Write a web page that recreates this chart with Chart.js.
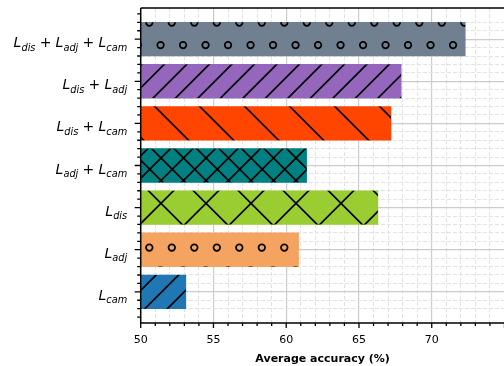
<!DOCTYPE html>
<html><head><meta charset="utf-8">
<script src="https://cdn.jsdelivr.net/npm/chart.js@4.4.1/dist/chart.umd.min.js"></script>
<style>html,body{margin:0;padding:0;overflow:hidden;background:#fff;width:504px;height:366px}</style>
</head><body>
<canvas id="c" width="520" height="366" style="display:block;width:520px;height:366px"></canvas>
<script>
// ---- data (bottom to top) ----
const categories = ['L_{cam}', 'L_{adj}', 'L_{dis}', 'L_{adj}+L_{cam}', 'L_{dis}+L_{cam}', 'L_{dis}+L_{adj}', 'L_{dis}+L_{adj}+L_{cam}'];
const accuracy = [53.1, 60.85, 66.3, 61.4, 67.2, 67.9, 72.3];
const xTickLabels = [50, 55, 60, 65, 70];
const xTitle = 'Average accuracy (%)';
const barColors = ['#1f77b4', '#f4a460', '#9acd32', '#008080', '#ff4500', '#9467bd', '#708090'];
const hatches = ['/', 'o', 'x', 'xx', '\\', '/', 'o'];

// ---- styles ----
const HATCH_LW = 1.7;
const HATCH = {
  '/':  {P: 22.5, c: 3.6},
  '\\': {P: 45, c: 3.3},
  'x':  {P: 45, c1: 4.3, c2: 2.7},
  'xx': {P: 22.5, c1: 4, c2: 3},
  'o':  {P: 22.5, x0: 149.3, y0: 22.6, r: 3.3}
};
const isInt = (v, m) => Math.abs(v / m - Math.round(v / m)) < 1e-6;

function hatchLines(ctx, dir, P, c, l, t, r, b) {
  ctx.beginPath();
  if (dir > 0) {
    const lo = l + t, hi = r + b;
    for (let k = Math.floor((lo - c) / P) - 1; c + k * P <= hi + P; k++) {
      const s = c + k * P;
      ctx.moveTo(s - t + 2, t - 2); ctx.lineTo(s - b - 2, b + 2);
    }
  } else {
    const lo = l - b, hi = r - t;
    for (let k = Math.floor((lo - c) / P) - 1; c + k * P <= hi + P; k++) {
      const s = c + k * P;
      ctx.moveTo(s + t - 2, t - 2); ctx.lineTo(s + b + 2, b + 2);
    }
  }
  ctx.stroke();
}
function hatchCircles(ctx, h, l, t, r, b) {
  const {P, x0, y0, r: rad} = h;
  const j0 = Math.floor((t - y0) / P) - 1, j1 = Math.ceil((b - y0) / P) + 1;
  for (let j = j0; j <= j1; j++) {
    const y = y0 + j * P;
    const off = (((j % 2) + 2) % 2) ? P / 2 : 0;
    const k0 = Math.floor((l - x0 - off) / P) - 1, k1 = Math.ceil((r - x0 - off) / P) + 1;
    for (let k = k0; k <= k1; k++) {
      ctx.beginPath(); ctx.arc(x0 + off + k * P, y, rad, 0, Math.PI * 2); ctx.stroke();
    }
  }
}
function drawHatch(ctx, type, l, t, r, b) {
  const h = HATCH[type];
  if (type === '/') hatchLines(ctx, 1, h.P, h.c, l, t, r, b);
  else if (type === '\\') hatchLines(ctx, -1, h.P, h.c, l, t, r, b);
  else if (type === 'x' || type === 'xx') { hatchLines(ctx, 1, h.P, h.c1, l, t, r, b); hatchLines(ctx, -1, h.P, h.c2, l, t, r, b); }
  else if (type === 'o') hatchCircles(ctx, h, l, t, r, b);
}

const hatchPlugin = {
  id: 'hatch',
  afterDatasetsDraw(chart) {
    const ctx = chart.ctx;
    chart.getDatasetMeta(0).data.forEach((el, i) => {
      const p = el.getProps(['x', 'y', 'base', 'height'], true);
      const l = Math.min(p.x, p.base), r = Math.max(p.x, p.base);
      const t = p.y - p.height / 2, b = p.y + p.height / 2;
      ctx.save();
      ctx.beginPath(); ctx.rect(l, t, r - l, b - t); ctx.clip();
      ctx.strokeStyle = '#000'; ctx.lineWidth = HATCH_LW;
      drawHatch(ctx, hatches[i], l, t, r, b);
      ctx.restore();
    });
  }
};

const framePlugin = {
  id: 'frame',
  afterDatasetsDraw(chart) {
    const ctx = chart.ctx, a = chart.chartArea;
    const xs = chart.scales.x, ys = chart.scales.y;
    ctx.save();
    ctx.strokeStyle = '#000'; ctx.lineWidth = 1.5;
    ctx.beginPath();
    ctx.moveTo(a.left, a.top); ctx.lineTo(a.right + 1, a.top);
    ctx.moveTo(a.left, a.top); ctx.lineTo(a.left, a.bottom);
    ctx.moveTo(a.left - 0.75, a.bottom); ctx.lineTo(a.right + 1, a.bottom);
    ctx.stroke();
    ctx.lineWidth = 1.3;
    ctx.beginPath();
    for (let v = xs.min; v <= xs.max + 1e-9; v += 1) {
      const px = xs.getPixelForValue(v);
      const len = isInt(v, 5) ? 5 : 3;
      ctx.moveTo(px, a.bottom); ctx.lineTo(px, a.bottom + len);
    }
    for (let n = Math.ceil(ys.min * 5); n <= Math.floor(ys.max * 5); n++) {
      const v = n / 5;
      const py = ys.getPixelForValue(v);
      const len = isInt(v, 1) ? 6 : 3.5;
      ctx.moveTo(a.left, py); ctx.lineTo(a.left - len, py);
    }
    ctx.stroke();
    ctx.restore();
  }
};

function mathPieces(label) {
  const pieces = [];
  label.split('+').forEach((term, i) => {
    if (i > 0) { pieces.push({gap: 4.2}); pieces.push({t: '+', f: '14px "DejaVu Sans"', dy: 0}); pieces.push({gap: 4.2}); }
    const m = term.match(/^(\w)_\{(\w+)\}$/);
    pieces.push({t: m[1], f: 'italic 14px "DejaVu Sans"', dy: 0});
    pieces.push({t: m[2], f: 'italic 9.8px "DejaVu Sans"', dy: 3.5});
  });
  return pieces;
}
const labelPlugin = {
  id: 'mathLabels',
  afterDraw(chart) {
    const ctx = chart.ctx, ys = chart.scales.y;
    const xr = chart.chartArea.left - 13.5;
    ctx.save();
    ctx.fillStyle = '#000'; ctx.textBaseline = 'alphabetic'; ctx.textAlign = 'left';
    categories.forEach((lab, i) => {
      const pieces = mathPieces(lab);
      let w = 0;
      pieces.forEach(p => { if (p.gap) { p.w = p.gap; } else { ctx.font = p.f; p.w = ctx.measureText(p.t).width; } w += p.w; });
      let x = xr - w;
      const yb = ys.getPixelForValue(i) + 8;
      pieces.forEach(p => { if (!p.gap) { ctx.font = p.f; ctx.fillText(p.t, x, yb + p.dy); } x += p.w; });
    });
    ctx.restore();
  }
};

new Chart(document.getElementById('c'), {
  type: 'bar',
  data: {
    datasets: [{
      data: accuracy.map((v, i) => ({x: v, y: i})),
      backgroundColor: barColors,
      borderWidth: 0,
      base: 50,
      barThickness: 'flex',
      barPercentage: 0.8,
      categoryPercentage: 1.0
    }]
  },
  options: {
    indexAxis: 'y',
    responsive: false,
    animation: false,
    devicePixelRatio: 1,
    layout: {padding: {top: 8, right: 15.5, left: 0, bottom: 0}},
    plugins: {legend: {display: false}, tooltip: {enabled: false}},
    scales: {
      x: {
        type: 'linear', position: 'bottom', min: 50, max: 75, offset: false,
        ticks: {
          stepSize: 1, autoSkip: false, maxRotation: 0, padding: 6,
          color: '#000', font: {family: 'DejaVu Sans', size: 11},
          callback: v => xTickLabels.includes(v) ? String(v) : ''
        },
        grid: {
          offset: false,
          color: c => (c.tick && isInt(c.tick.value, 5)) ? '#cccccc' : '#e3e3e3',
          lineWidth: c => (c.tick && isInt(c.tick.value, 5)) ? 1.2 : 1,
          tickLength: 5, tickColor: 'rgba(0,0,0,0)'
        },
        border: {display: false, dash: c => (c.tick && !isInt(c.tick.value, 5)) ? [4, 2] : []},
        title: {display: true, text: xTitle, color: '#000', font: {family: 'DejaVu Sans', size: 11, weight: 'bold'}, padding: {top: 2, bottom: 0}},
        afterFit: s => { s.height = 43; }
      },
      y: {
        type: 'linear', min: -0.74, max: 6.74, offset: false,
        ticks: {stepSize: 0.2, autoSkip: false, display: false},
        grid: {
          offset: false,
          color: c => {
            if (!c.tick) return 'rgba(0,0,0,0)';
            const v = c.tick.value;
            if (!isInt(v, 0.2)) return 'rgba(0,0,0,0)';
            return isInt(v, 1) ? '#cccccc' : '#e3e3e3';
          },
          lineWidth: c => (c.tick && isInt(c.tick.value, 1)) ? 1.2 : 1,
          tickLength: 6, tickColor: 'rgba(0,0,0,0)'
        },
        border: {display: false, dash: c => (c.tick && !isInt(c.tick.value, 1)) ? [4, 2] : []},
        afterFit: s => { s.width = 140.7; }
      }
    }
  },
  plugins: [hatchPlugin, framePlugin, labelPlugin]
});
</script>
</body></html>
